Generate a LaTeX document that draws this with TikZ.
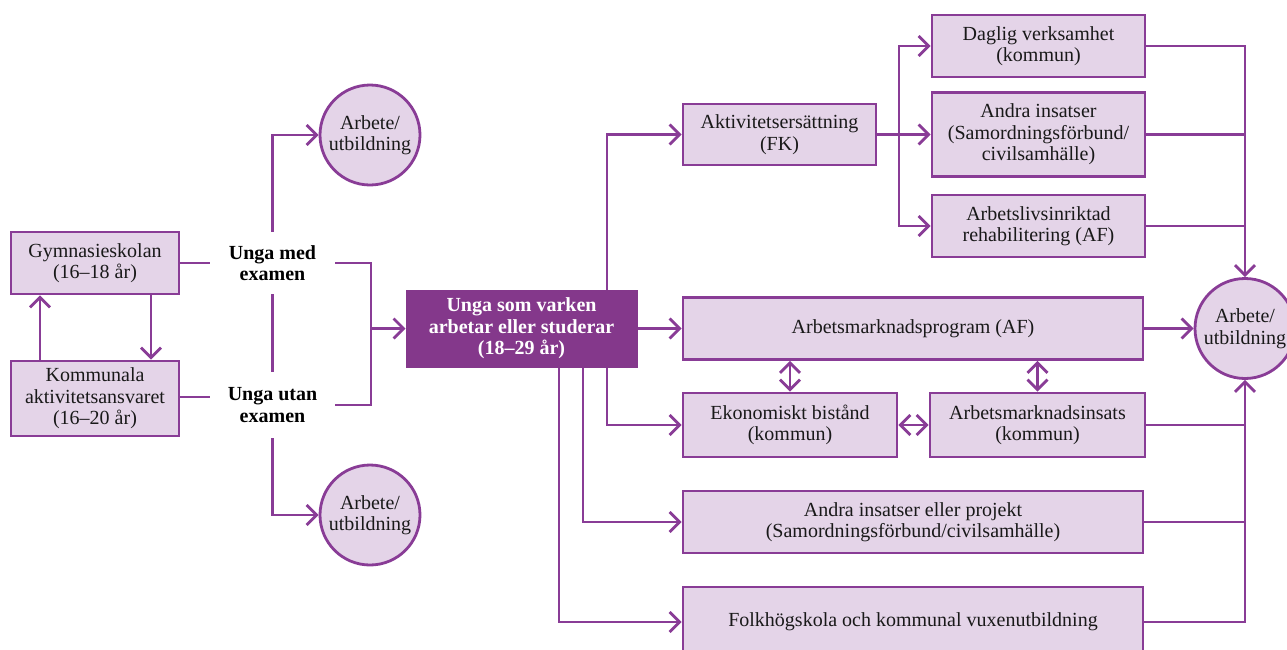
\documentclass[tikz,border=0pt]{standalone}
\usepackage{fontspec}
\setmainfont{Liberation Serif}
\usetikzlibrary{arrows.meta}
\definecolor{pborder}{HTML}{893C96}
\definecolor{pfill}{HTML}{E4D4E8}
\definecolor{pdark}{HTML}{84388B}
\begin{document}
\begin{tikzpicture}[x=1pt,y=-1pt,
  every node/.style={font=\fontsize{20}{21.5}\selectfont},
  box/.style={draw=pborder,fill=pfill,line width=2.8pt,align=center,inner sep=0pt,text=black!90},
  roundbox/.style={draw=pborder,fill=pfill,line width=2.8pt,circle,align=center,inner sep=0pt,minimum size=100pt,text=black!90},
  lbl/.style={align=center,inner sep=0pt,font=\fontsize{20}{21.5}\selectfont\bfseries},
  conn/.style={draw=pborder,line width=2.8pt},
  arr/.style={conn,-{Straight Barb[length=10pt,width=20pt]}},
  darr/.style={conn,{Straight Barb[length=10pt,width=20pt]}-{Straight Barb[length=10pt,width=20pt]}}]
\useasboundingbox (0,0) rectangle (1287,649);
% left
\node[box,minimum width=168pt,minimum height=62pt] (gym) at (95,263) {Gymnasieskolan\\(16--18 år)};
\node[box,minimum width=168pt,minimum height=75pt] (kom) at (95,398.5) {Kommunala\\aktivitetsansvaret\\(16--20 år)};
\node[lbl,minimum width=125pt,minimum height=62pt] (med) at (272.5,263) {Unga med\\examen};
\node[lbl,minimum width=125pt,minimum height=66pt] (utan) at (272.5,405) {Unga utan\\examen};
\node[roundbox] (c1) at (370,135) {Arbete/\\utbildning};
\node[roundbox] (c2) at (370,515) {Arbete/\\utbildning};
\node[draw=pdark,fill=pdark,line width=1pt,minimum width=231pt,minimum height=77pt,align=center,inner sep=0pt,text=white,font=\fontsize{20}{21.5}\selectfont\bfseries] (main) at (521.5,328.5) {Unga som varken\\arbetar eller studerar\\(18--29 år)};
% right
\node[box,minimum width=193pt,minimum height=61pt] (akt) at (779.5,134.5) {Aktivitetsersättning\\(FK)};
\node[box,minimum width=213pt,minimum height=62pt] (dag) at (1038.5,46) {Daglig verksamhet\\(kommun)};
\node[box,minimum width=213pt,minimum height=84pt] (andra) at (1038.5,134.5) {Andra insatser\\(Samordningsförbund/\\civilsamhälle)};
\node[box,minimum width=213pt,minimum height=62pt] (arb) at (1038.5,226) {Arbetslivsinriktad\\rehabilitering (AF)};
\node[box,minimum width=460pt,minimum height=62pt] (amp) at (913,328.5) {Arbetsmarknadsprogram (AF)};
\node[box,minimum width=214pt,minimum height=64pt] (eko) at (790,425) {Ekonomiskt bistånd\\(kommun)};
\node[box,minimum width=215pt,minimum height=64pt] (ami) at (1037.5,425) {Arbetsmarknadsinsats\\(kommun)};
\node[box,minimum width=460pt,minimum height=62pt] (proj) at (913,522) {Andra insatser eller projekt\\(Samordningsförbund/civilsamhälle)};
\node[box,minimum width=460pt,minimum height=70pt] (folk) at (913,622) {Folkhögskola och kommunal vuxenutbildning};
\node[roundbox] (c3) at (1245,328.5) {Arbete/\\utbildning};
% left connectors
\draw[arr] ([xshift=-55pt]kom.north) -- ([xshift=-55pt]gym.south);
\draw[arr] ([xshift=56pt]gym.south) -- ([xshift=56pt]kom.north);
\draw[conn] (gym.east) -- (med.west);
\draw[conn] (kom.east |- 0,397) -- (utan.west |- 0,397);
\draw[arr] (med.north) |- (c1.west);
\draw[conn] (med.south) -- (utan.north);
\draw[arr] (utan.south) |- (c2.west);
\coordinate (j) at (371,328.5);
\draw[conn] (med.east) -| (j);
\draw[conn] (utan.east) -| (j);
\draw[arr] (j) -- (main.west);
% main connectors
\draw[arr] ([xshift=85.5pt]main.north) |- (akt.west);
\draw[arr] (main.east) -- (amp.west);
\draw[arr] ([xshift=85.5pt]main.south) |- (eko.west);
\draw[arr] ([xshift=61.5pt]main.south) |- (proj.west);
\draw[arr] ([xshift=37.5pt]main.south) |- (folk.west);
% akt fan-out
\coordinate (k) at (899,134.5);
\draw[conn] (akt.east) -- (k);
\draw[arr] (k) |- (dag.west);
\draw[arr] (k) -- (andra.west);
\draw[arr] (k) |- (arb.west);
% collectors
\draw[arr] (dag.east) -| (c3.north);
\draw[conn] (andra.east) -- (andra.east -| c3.north);
\draw[conn] (arb.east) -- (arb.east -| c3.north);
\draw[arr] (amp.east) -- (c3.west);
\draw[arr] (folk.east) -| (c3.south);
\draw[conn] (ami.east) -- (ami.east -| c3.south);
\draw[conn] (proj.east) -- (proj.east -| c3.south);
% double arrows
\draw[darr] (amp.south -| eko.north) -- (eko.north);
\draw[darr] (amp.south -| ami.north) -- (ami.north);
\draw[darr] (eko.east) -- (ami.west);
\end{tikzpicture}
\end{document}
